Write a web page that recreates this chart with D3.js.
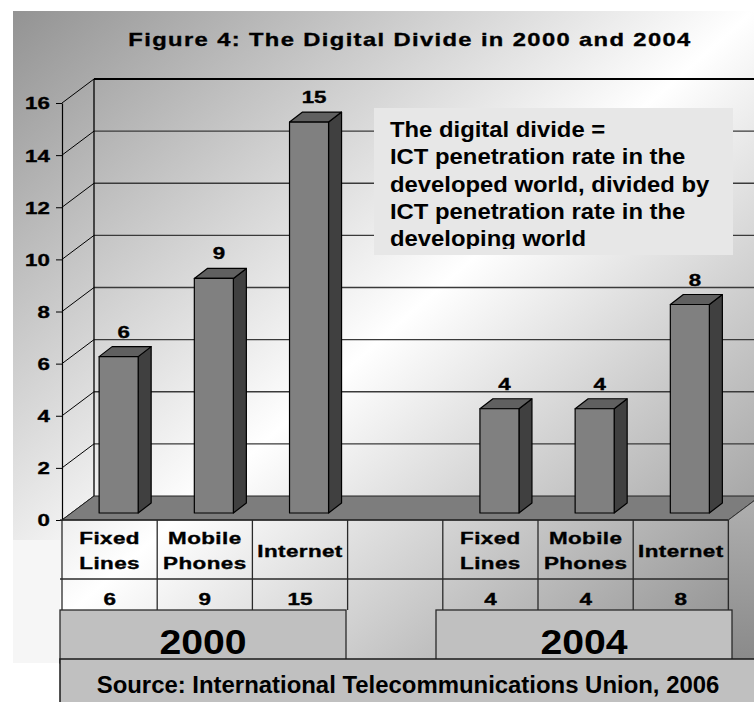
<!DOCTYPE html>
<html>
<head>
<meta charset="utf-8">
<script src="https://cdn.jsdelivr.net/npm/d3@7"></script>
<style>
  html, body { margin: 0; padding: 0; background: #ffffff; }
  svg text { font-family: "Liberation Sans", Arial, sans-serif; font-weight: bold; fill: #000; }
  svg text.heavy { stroke: #000; stroke-width: 0.35px; }
</style>
</head>
<body>
<svg id="chart" width="754" height="702"></svg>
<script>
// ---------------- data ----------------
const title = "Figure 4: The Digital Divide in 2000 and 2004";
const years = ["2000", "2004"];
const categories = ["Fixed Lines", "Mobile Phones", "Internet"];
const headerLines = [["Fixed", "Lines"], ["Mobile", "Phones"], ["Internet"]];
const values2000 = [6, 9, 15];
const values2004 = [4, 4, 8];
const yTicks = [0, 2, 4, 6, 8, 10, 12, 14, 16];
const noteLines = [
  "The digital divide =",
  "ICT penetration rate in the",
  "developed world, divided by",
  "ICT penetration rate in the",
  "developing world"
];
const source = "Source: International Telecommunications Union, 2006";

// ---------------- layout ----------------
const W = 754, H = 702;
const svg = d3.select("#chart");
const defs = svg.append("defs");

const bg = defs.append("linearGradient").attr("id", "bgGrad")
  .attr("x1", 0).attr("y1", 0).attr("x2", 1).attr("y2", 1);
bg.append("stop").attr("offset", 0).attr("stop-color", "#939393");
bg.append("stop").attr("offset", 0.5).attr("stop-color", "#ffffff");
bg.append("stop").attr("offset", 1).attr("stop-color", "#8a8a8a");

const sideGrad = defs.append("linearGradient").attr("id", "sideGrad")
  .attr("x1", 0).attr("y1", 0).attr("x2", 0).attr("y2", 1);
sideGrad.append("stop").attr("offset", 0).attr("stop-color", "#b0b0b0");
sideGrad.append("stop").attr("offset", 1).attr("stop-color", "#8a8a8a");

// slots: 3 categories for 2000, a gap, 3 categories for 2004
const slots2000 = categories.map(c => "2000|" + c);
const slots2004 = categories.map(c => "2004|" + c);
const slots = [...slots2000, "gap", ...slots2004];
const bars = [
  ...categories.map((c, i) => ({ slot: slots2000[i], cat: c, value: values2000[i], year: years[0], idx: i })),
  ...categories.map((c, i) => ({ slot: slots2004[i], cat: c, value: values2004[i], year: years[1], idx: i }))
];

const x = d3.scaleBand().domain(slots).range([62, 728.4]).padding(0);
const y = d3.scaleLinear().domain([0, 16]).range([520, 103]);
const bw = x.bandwidth();

const DX = 32, DY = 24;          // depth of the plot box
const barLift = 7;               // bars sit partway back on the floor
const bdx = 13, bdy = 10;        // bar depth
const barOff = bw * 0.39, barW = bw * 0.41;

function stext(g, px, py, str, size, sx, anchor, ls) {
  return g.append("text")
    .attr("transform", `translate(${px},${py}) scale(${sx},1)`)
    .attr("text-anchor", anchor || "middle")
    .style("font-size", size + "px")
    .style("letter-spacing", (ls || 0) + "px")
    .text(str);
}

// background panel
svg.append("rect").attr("x", 13).attr("y", 11).attr("width", W - 13).attr("height", 652)
  .attr("fill", "url(#bgGrad)");
svg.append("rect").attr("x", 13).attr("y", 540).attr("width", 47).attr("height", 123)
  .attr("fill", "#f6f6f6");

// title
stext(svg, 410, 46, title, 19, 1.25, "middle", 1.1).classed("heavy", true);

// back wall gridlines
const back = svg.append("g");
back.selectAll("line.grid").data(yTicks.filter(v => v > 0 && v < 16)).join("line")
  .attr("class", "grid")
  .attr("x1", 62 + DX).attr("x2", W)
  .attr("y1", d => y(d) - DY).attr("y2", d => y(d) - DY)
  .attr("stroke", "#3a3a3a").attr("stroke-width", 1.3);
back.append("line").attr("x1", 62 + DX).attr("x2", W)
  .attr("y1", y(16) - DY).attr("y2", y(16) - DY)
  .attr("stroke", "#000").attr("stroke-width", 2);
back.append("line").attr("x1", 62 + DX).attr("x2", 62 + DX)
  .attr("y1", y(16) - DY).attr("y2", y(0) - DY)
  .attr("stroke", "#000").attr("stroke-width", 1.3);
// side-wall diagonals
back.selectAll("line.diag").data(yTicks).join("line")
  .attr("class", "diag")
  .attr("x1", 62).attr("y1", d => y(d))
  .attr("x2", 62 + DX).attr("y2", d => y(d) - DY)
  .attr("stroke", "#000").attr("stroke-width", 1);

// floor
const x0 = x.range()[0], x1 = x.range()[1];
svg.append("path")
  .attr("d", `M${x0},${y(0)} L${x1},${y(0)} L${x1 + DX},${y(0) - DY} L${x0 + DX},${y(0) - DY} Z`)
  .attr("fill", "#7d7d7d").attr("stroke", "#222").attr("stroke-width", 1);

// right side face of the data table
svg.append("path")
  .attr("d", `M${x1},${y(0)} L${x1 + DX},${y(0) - DY} L${x1 + DX},660 L${x1},660 Z`)
  .attr("fill", "url(#sideGrad)").attr("stroke", "#333").attr("stroke-width", 1);

// bars
const gb = svg.append("g").attr("stroke", "#000").attr("stroke-width", 1.2).attr("stroke-linejoin", "round");
bars.forEach(b => {
  const bx = x(b.slot) + barOff;
  const yb = y(0) - barLift;
  const yt = y(b.value) - barLift;
  gb.append("path") // side
    .attr("d", `M${bx + barW},${yb} L${bx + barW + bdx},${yb - bdy} L${bx + barW + bdx},${yt - bdy} L${bx + barW},${yt} Z`)
    .attr("fill", "#404040");
  gb.append("path") // top
    .attr("d", `M${bx},${yt} L${bx + bdx},${yt - bdy} L${bx + barW + bdx},${yt - bdy} L${bx + barW},${yt} Z`)
    .attr("fill", "#606060");
  gb.append("rect") // front
    .attr("x", bx).attr("y", yt).attr("width", barW).attr("height", yb - yt)
    .attr("fill", "#808080");
  stext(svg, bx + barW / 2 + 5, yt - 19, String(b.value), 16.5, 1.35, "middle", 0).classed("heavy", true);
});

// front y axis
const axis = svg.append("g").attr("transform", "translate(62,0)")
  .call(d3.axisLeft(y).tickValues(yTicks).tickSize(6).tickSizeOuter(0).tickPadding(3));
axis.select(".domain").attr("stroke", "#000").attr("stroke-width", 1.2);
axis.selectAll(".tick line").attr("stroke", "#000").attr("stroke-width", 1);
axis.selectAll(".tick text")
  .attr("x", -9).attr("dy", "0.36em")
  .attr("transform", "scale(1.35,1)")
  .classed("heavy", true)
  .style("font-size", "16.5px").style("font-family", "'Liberation Sans', Arial, sans-serif")
  .style("font-weight", "bold").attr("fill", "#000");

// annotation box
const note = svg.append("g");
defs.append("clipPath").attr("id", "noteClip").append("rect")
  .attr("x", 374).attr("y", 108).attr("width", 359).attr("height", 141);
note.append("rect").attr("x", 374).attr("y", 108).attr("width", 359).attr("height", 147)
  .attr("fill", "#e7e7e7");
const noteText = note.append("g").attr("clip-path", "url(#noteClip)");
noteLines.forEach((t, i) => {
  stext(noteText, 390, 137 + i * 27.3, t, 22.5, 1.06, "start", 0);
});

// data table
const tableTop = y(0), rowMid = 579, rowBot = 610;
const tg = svg.append("g");
const cols = slots.map(s => x(s)).concat([x1]);
tg.selectAll("line.col").data(cols).join("line")
  .attr("class", "col")
  .attr("x1", d => d).attr("x2", d => d).attr("y1", tableTop).attr("y2", rowBot)
  .attr("stroke", "#2a2a2a").attr("stroke-width", 1.3);
tg.append("line").attr("x1", 60).attr("x2", x1).attr("y1", rowMid).attr("y2", rowMid)
  .attr("stroke", "#2a2a2a").attr("stroke-width", 1.3);
tg.append("line").attr("x1", 60).attr("x2", x1).attr("y1", tableTop).attr("y2", tableTop)
  .attr("stroke", "#2a2a2a").attr("stroke-width", 1.3);

bars.forEach(b => {
  const cx = x(b.slot) + bw / 2;
  const lines = headerLines[b.idx];
  if (lines.length === 2) {
    stext(tg, cx, 544, lines[0], 16, 1.4, "middle", 0.3).classed("heavy", true);
    stext(tg, cx, 569, lines[1], 16, 1.4, "middle", 0.3).classed("heavy", true);
  } else {
    stext(tg, cx, 557, lines[0], 16, 1.4, "middle", 0.3).classed("heavy", true);
  }
  stext(tg, cx, 605, String(b.value), 16, 1.4, "middle", 0).classed("heavy", true);
});

// year boxes
const yearBoxes = [
  { year: years[0], xa: 60, xb: 346, yb: 663 },
  { year: years[1], xa: 436, xb: 732, yb: 660 }
];
yearBoxes.forEach(d => {
  svg.append("rect").attr("x", d.xa).attr("y", rowBot).attr("width", d.xb - d.xa).attr("height", d.yb - rowBot)
    .attr("fill", "#c0c0c0").attr("stroke", "#2a2a2a").attr("stroke-width", 1.3);
  stext(svg, (d.xa + d.xb) / 2, 654, d.year, 35, 1.12, "middle", 0);
});

// source box
svg.append("rect").attr("x", 60).attr("y", 659).attr("width", W - 60 + 5).attr("height", 50)
  .attr("fill", "#c0c0c0").attr("stroke", "#1a1a1a").attr("stroke-width", 1.5);
stext(svg, 408, 693, source, 23, 1.04, "middle", 0);
</script>
</body>
</html>
